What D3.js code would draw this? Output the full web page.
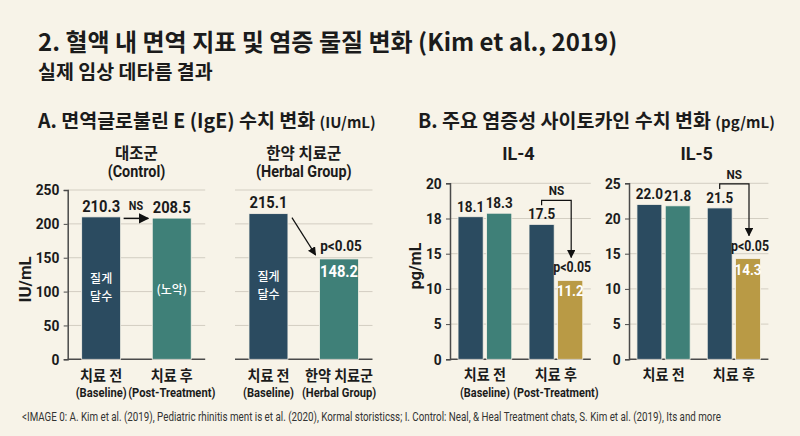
<!DOCTYPE html>
<html>
<head>
<meta charset="utf-8">
<script src="https://cdn.jsdelivr.net/npm/d3@7"></script>
<style>
  body { margin: 0; background: #f7f3e8; }
  svg { display: block; background: #f7f3e8; }
  text { font-family: "Noto Sans CJK KR", "Noto Sans", sans-serif; font-weight: 700; fill: #1b1b1b; }
  .num { font-family: Roboto, "Noto Sans", sans-serif; }
</style>
</head>
<body>
<svg id="chart" width="800" height="436"></svg>
<script>
// ---- data ----
const igeTitles = ["대조군", "한약 치료군"];
const igeTitlesEn = ["(Control)", "(Herbal Group)"];
const igeControl = [210.3, 208.5];
const igeHerbal = [215.1, 148.2];
const igeCatsControl = ["치료 전", "치료 후"];
const igeCatsControlEn = ["(Baseline)", "(Post-Treatment)"];
const igeCatsHerbal = ["치료 전", "한약 치료군"];
const igeCatsHerbalEn = ["(Baseline)", "(Herbal Group)"];
const igeTicks = [0, 50, 100, 150, 200, 250];
const igeNotesControl = [["질게", "달수"], ["(노악)"]];
const igeNotesHerbal = [["질게", "달수"], []];
const igeSig = ["NS", "p<0.05"];

const cytoTitles = ["IL-4", "IL-5"];
const cytoCats = ["치료 전", "치료 후"];
const cytoCatsEn = ["(Baseline)", "(Post-Treatment)"];
const il4Control = [18.1, 17.5];
const il4Herbal = [18.3, 11.2];
const il4Ticks = [0, 5, 10, 15, 18, 20];
const il5Control = [22.0, 21.5];
const il5Herbal = [21.8, 14.3];
const il5Ticks = [0, 5, 10, 15, 20, 25];
const cytoSig = ["NS", "p<0.05"];

const C = { dark: "#2b4b60", teal: "#3f8078", gold: "#b99a45", grid: "#d3cec2", axis: "#4a4a4a" };
const svg = d3.select("#chart");

svg.append("defs").append("marker")
    .attr("id", "arrow").attr("viewBox", "0 0 10 10")
    .attr("refX", 9).attr("refY", 5)
    .attr("markerWidth", 7).attr("markerHeight", 7)
    .attr("orient", "auto-start-reverse")
  .append("path").attr("d", "M0,0L10,5L0,10z").attr("fill", "#111");

// text helper; sx < 1 squeezes latin text to look condensed
let txt = (g, x, y, s, size, opt = {}) => {
    let t = g.append("text")
        .attr("transform", "translate(" + x + "," + y + ") scale(" + (opt.sx || 1) + ",1)")
        .attr("text-anchor", opt.anchor || "middle")
        .attr("font-size", size)
        .text(s);
    if (opt.num) t.attr("class", "num");
    if (opt.fill) t.style("fill", opt.fill);
    if (opt.weight) t.style("font-weight", opt.weight);
    return t;
};

// ---- headings ----
txt(svg, 38, 51, "2. 혈액 내 면역 지표 및 염증 물질 변화 (Kim et al., 2019)", 24, { anchor: "start" });
txt(svg, 38, 78.5, "실제 임상 데타름 결과", 19.5, { anchor: "start" });
let hA = txt(svg, 38, 128, "A. 면역글로불린 E (IgE) 수치 변화 ", 19.5, { anchor: "start" });
hA.append("tspan").attr("font-size", 15).text("(IU/mL)");
let hB = txt(svg, 418, 128, "B. 주요 염증성 사이토카인 수치 변화 ", 19.5, { anchor: "start" });
hB.append("tspan").attr("font-size", 15).text("(pg/mL)");

let yTop = 183.3, yBase = 359.3;

let grid = (g, y, ticks, x0, x1) => {
    g.selectAll(".grid").data(ticks.filter(d => d > 0)).join("line")
        .attr("x1", x0).attr("x2", x1)
        .attr("y1", d => y(d)).attr("y2", d => y(d))
        .attr("stroke", C.grid).attr("stroke-width", 1);
};

let yAxis = (g, y, ticks, x0) => {
    let ax = g.append("g").attr("transform", "translate(" + x0 + ",0)")
        .call(d3.axisLeft(y).tickValues(ticks).tickSize(4).tickPadding(4).tickFormat(d3.format("d")));
    ax.select(".domain").attr("stroke", C.axis).attr("stroke-width", 1.5);
    ax.selectAll(".tick line").attr("stroke", C.axis);
    ax.selectAll(".tick text").attr("class", "num").attr("font-size", 15)
        .style("font-weight", 700).style("fill", "#1b1b1b")
        .attr("transform", "scale(0.92,1)").attr("dx", -1);
};

// ---- panel A: IgE ----
let yIge = d3.scaleLinear().domain([0, 250]).range([yBase, 190]);

let drawIge = (range, values, cats, catsEn, title, titleEn, notes, withAxis, diag) => {
    let g = svg.append("g");
    let x = d3.scaleBand().domain(d3.range(values.length)).range(range)
        .paddingInner(0.448).paddingOuter(0.198);
    let cx = i => x(i) + x.bandwidth() / 2;
    grid(g, yIge, igeTicks, range[0], range[1]);
    if (withAxis) {
        yAxis(g, yIge, igeTicks, range[0]);
        txt(g, 0, 0, "IU/mL", 17, { num: true })
            .attr("transform", "translate(31," + yIge(118) + ") rotate(-90)");
    }
    g.append("line").attr("x1", range[0]).attr("x2", range[1])
        .attr("y1", yBase).attr("y2", yBase).attr("stroke", C.axis).attr("stroke-width", 1.5);

    g.selectAll(".bar").data(values).join("rect")
        .attr("x", (d, i) => x(i)).attr("width", x.bandwidth())
        .attr("y", d => yIge(d)).attr("height", d => yBase - yIge(d))
        .attr("fill", (d, i) => i === 0 ? C.dark : C.teal)
        .attr("stroke", "#f7f3e8").attr("stroke-width", 0.8);

    let mid = (range[0] + range[1]) / 2;
    txt(g, mid, 159, title, 15.5);
    txt(g, mid, 177, titleEn, 16, { num: true, sx: 0.9 });

    values.forEach((v, i) => {
        txt(g, cx(i), 381, cats[i], 15, { sx: 0.94 });
        txt(g, cx(i), 397, catsEn[i], 13, { num: true, sx: 0.86 });
        if (!notes[i].length) return;
        let m = (yIge(v) + yBase) / 2;
        let two = notes[i].length > 1;
        let t = txt(g, cx(i), m + (two ? -5 : 5), "", 12, { fill: "#fff", weight: 500 });
        notes[i].forEach((s, k) => t.append("tspan").attr("x", 0).attr("dy", k ? 18 : 0).text(s));
    });

    if (!diag) {
        values.forEach((v, i) => txt(g, cx(i), yIge(v) - 5, v.toFixed(1), 16, { num: true, sx: 0.92 }));
        let ax0 = x(0) + x.bandwidth() + 3, ax1 = x(1) - 4;
        txt(g, (ax0 + ax1) / 2, yIge(values[0]) - 7, igeSig[0], 12, { num: true, sx: 0.9 });
        g.append("line").attr("x1", ax0).attr("x2", ax1)
            .attr("y1", yIge(values[0]) + 1.5).attr("y2", yIge(values[0]) + 1.5)
            .attr("stroke", "#111").attr("stroke-width", 1.5).attr("marker-end", "url(#arrow)");
    } else {
        txt(g, cx(0), yIge(values[0]) - 6, values[0].toFixed(1), 16, { num: true, sx: 0.92 });
        txt(g, cx(1), yIge(values[1]) + 18, values[1].toFixed(1), 16, { num: true, sx: 0.92, fill: "#fff" });
        txt(g, cx(1) + 2, yIge(values[1]) - 8, igeSig[1], 15, { num: true, sx: 0.9 });
        g.append("line")
            .attr("x1", x(0) + x.bandwidth() + 4).attr("y1", yIge(values[0]) + 4)
            .attr("x2", x(1) - 4).attr("y2", yIge(values[1]) - 4)
            .attr("stroke", "#111").attr("stroke-width", 1.2).attr("marker-end", "url(#arrow)");
    }
};

drawIge([67.7, 205.2], igeControl, igeCatsControl, igeCatsControlEn,
    igeTitles[0], igeTitlesEn[0], igeNotesControl, true, false);
drawIge([235, 372.5], igeHerbal, igeCatsHerbal, igeCatsHerbalEn,
    igeTitles[1], igeTitlesEn[1], igeNotesHerbal, false, true);

// ---- panel B: cytokines ----
let drawCyto = (range, ticks, control, herbal, title, catsEn, yLabel) => {
    let g = svg.append("g");
    // ticks sit at equal steps on the axis, as in the source figure
    let step = (yBase - yTop) / (ticks.length - 1);
    let y = d3.scaleLinear().domain(ticks).range(ticks.map((d, i) => yBase - i * step));
    let x0 = d3.scaleBand().domain(d3.range(cytoCats.length)).range(range)
        .paddingInner(0.243).paddingOuter(0.113);
    let x1 = d3.scaleBand().domain([0, 1]).range([0, x0.bandwidth()]).paddingInner(0.12);
    let rows = cytoCats.map((c, i) => [control[i], herbal[i]]);
    let fill = (gi, si) => si === 0 ? C.dark : (gi === 0 ? C.teal : C.gold);
    let bx = (gi, si) => x0(gi) + x1(si);
    let bc = (gi, si) => bx(gi, si) + x1.bandwidth() / 2;

    grid(g, y, ticks, range[0], range[1]);
    yAxis(g, y, ticks, range[0]);
    if (yLabel) txt(g, 0, 0, yLabel, 16, { num: true })
        .attr("transform", "translate(421," + 266 + ") rotate(-90)");
    g.append("line").attr("x1", range[0]).attr("x2", range[1])
        .attr("y1", yBase).attr("y2", yBase).attr("stroke", C.axis).attr("stroke-width", 1.5);

    rows.forEach((r, gi) => {
        g.selectAll(".b" + gi).data(r).join("rect")
            .attr("x", (d, si) => bx(gi, si)).attr("width", x1.bandwidth())
            .attr("y", d => y(d)).attr("height", d => yBase - y(d))
            .attr("fill", (d, si) => fill(gi, si))
            .attr("stroke", "#f7f3e8").attr("stroke-width", 0.8);
        r.forEach((v, si) => {
            if (gi === 1 && si === 1) {
                txt(g, bc(gi, si), y(v) + 16, v.toFixed(1), 15, { num: true, sx: 0.9, fill: "#fff" });
                txt(g, bc(gi, si) + 2, y(v) - 8, cytoSig[1], 14, { num: true, sx: 0.88 });
            } else {
                txt(g, bc(gi, si), y(v) - 5, v.toFixed(1), 15, { num: true, sx: 0.9 });
            }
        });
        let gc = x0(gi) + x0.bandwidth() / 2;
        txt(g, gc, 380, cytoCats[gi], 15, { sx: 0.94 });
        if (catsEn) txt(g, gc, 397, catsEn[gi], 13, { num: true, sx: 0.84 });
    });

    // NS bracket from the post control bar to the post herbal bar
    let sx0 = bc(1, 0), sx1 = bc(1, 1) + 1;
    let top = y(control[1]) - 24;
    g.append("path")
        .attr("d", "M" + sx0 + "," + (y(control[1]) - 19) + "V" + top + "H" + sx1 + "V" + (y(herbal[1]) - 23))
        .attr("fill", "none").attr("stroke", "#111").attr("stroke-width", 1.2)
        .attr("marker-end", "url(#arrow)");
    txt(g, (sx0 + sx1) / 2, top - 5, cytoSig[0], 13, { num: true, sx: 0.9 });

    txt(g, (range[0] + range[1]) / 2 - 2, 160, title, 19, { num: true, sx: 0.95 });
};

drawCyto([450, 590.8], il4Ticks, il4Control, il4Herbal, cytoTitles[0], cytoCatsEn, "pg/mL");
drawCyto([629, 768.4], il5Ticks, il5Control, il5Herbal, cytoTitles[1], null, null);

// ---- footnote, squeezed to the width it has in the source ----
let foot = txt(svg, 22, 421, "<IMAGE 0: A. Kim et al. (2019), Pediatric rhinitis ment is et al. (2020), Kormal storisticss; I. Control: Neal, & Heal Treatment chats, S. Kim et al. (2019), Its and more",
    12, { anchor: "start", num: true, weight: 400, fill: "#333" });
let fw = foot.node().getComputedTextLength();
foot.attr("transform", "translate(22,421) scale(" + Math.min(1, 700 / fw) + ",1)");
</script>
</body>
</html>
